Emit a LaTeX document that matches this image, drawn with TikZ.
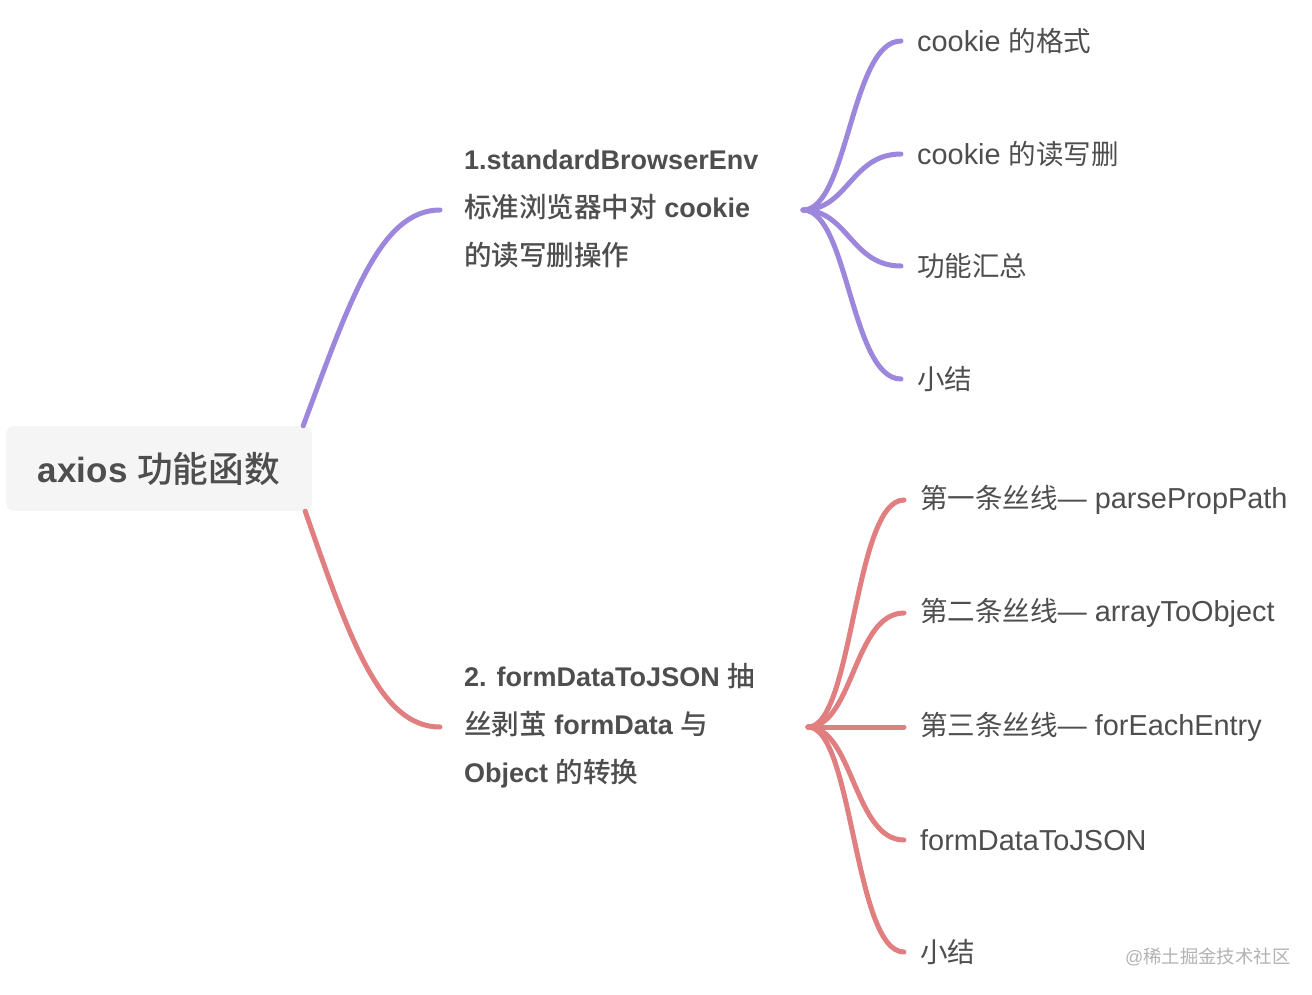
\documentclass[tikz,border=0pt]{standalone}
\usepackage{fontspec}
\setmainfont{Liberation Sans}
\newfontfamily\latR{Liberation Sans}[Scale=1.07]
\newfontfamily\zhfont{Noto Sans CJK SC}[Scale=1.02,BoldFont={* Medium}]
\newcommand{\zh}[1]{{\zhfont #1}}
\definecolor{purp}{RGB}{157,135,221}
\definecolor{redl}{RGB}{225,126,128}
\definecolor{txt}{RGB}{78,78,78}
\definecolor{rootfill}{RGB}{245,245,245}
\begin{document}
\begin{tikzpicture}[x=1pt,y=-1pt,
  rootbox/.style={rounded corners=8pt,fill=rootfill,minimum width=306pt,minimum height=85pt,inner sep=0pt,text=txt,font=\fontsize{35}{42}\selectfont\bfseries},
  midbox/.style={anchor=west,inner sep=0pt,align=left,text=txt,font=\fontsize{27}{48}\selectfont\bfseries},
  leafbox/.style={anchor=west,inner sep=0pt,text=txt,font=\fontsize{27}{32}\selectfont\latR},
  pline/.style={draw=purp,line width=5pt,line cap=round},
  rline/.style={draw=redl,line width=5pt,line cap=round}]
\useasboundingbox (0,0) rectangle (1312,994);
\node[rootbox] (root) at (159,468.5) {axios \zh{功能函数}};
\node[midbox] (b1) at (464,209) {1.standardBrowserEnv\\\zh{标准浏览器中对} cookie\\\zh{的读写删操作}};
\node[midbox] (b2) at (464,726) {2. formDataToJSON \zh{抽}\\\zh{丝剥茧} formData \zh{与}\\Object \zh{的转换}};
\node[leafbox] (l1) at (917,41) {cookie \zh{的格式}};
\node[leafbox] (l2) at (917,154) {cookie \zh{的读写删}};
\node[leafbox] (l3) at (917,266) {\zh{功能汇总}};
\node[leafbox] (l4) at (917,379) {\zh{小结}};
\node[leafbox] (m1) at (920,500) {\zh{第一条丝线}— parsePropPath};
\node[leafbox] (m2) at (920,613) {\zh{第二条丝线}— arrayToObject};
\node[leafbox] (m3) at (920,727) {\zh{第三条丝线}— forEachEntry};
\node[leafbox] (m4) at (920,840) {formDataToJSON};
\node[leafbox] (m5) at (920,952) {\zh{小结}};
\node[anchor=west,inner sep=0pt,text=black!30,font=\fontsize{18}{22}\selectfont] (wm) at (1125,957) {@\zh{稀土掘金技术社区}};
% hubs
\coordinate (h1) at (803,210);
\coordinate (h2) at (808,727);
% root to branches
\draw[pline] ([xshift=-9pt]root.north east) .. controls (350,300) and (380,210) .. ([xshift=-24pt]b1.west |- h1);
\draw[rline] ([xshift=-7pt]root.south east) .. controls (350,640) and (380,727) .. ([xshift=-24pt]b2.west |- h2);
% purple leaves
\foreach \n in {l1,l2,l3,l4}{
  \draw[pline] (h1) .. controls +(45,0) and +(-50,0) .. ([xshift=-16pt]\n.west);
}
\foreach \n in {m1,m2,m3,m4,m5}{
  \draw[rline] (h2) .. controls +(45,0) and +(-50,0) .. ([xshift=-16pt]\n.west);
}
\end{tikzpicture}
\end{document}
